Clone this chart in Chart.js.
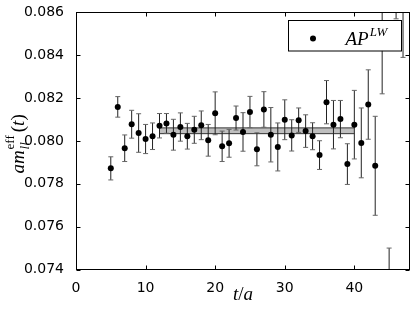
<!DOCTYPE html>
<html><head><meta charset="utf-8">
<script src="https://cdn.jsdelivr.net/npm/chart.js@4/dist/chart.umd.min.js"></script>
<style>html,body{margin:0;padding:0;background:#fff;}canvas{display:block;}</style>
</head><body>
<canvas id="c" width="415" height="311"></canvas>
<script>
// ---- data ----
const tValues = [5,6,7,8,9,10,11,12,13,14,15,16,17,18,19,20,21,22,23,24,25,26,27,28,29,30,31,32,33,34,35,36,37,38,39,40,41,42,43,44,45,46,47];
const mEff = [0.07872,0.08159,0.07966,0.08078,0.08037,0.08009,0.08022,0.08071,0.08082,0.08029,0.08065,0.08022,0.08052,0.08073,0.08003,0.08129,0.07975,0.07989,0.08107,0.08042,0.08135,0.07961,0.08147,0.08029,0.07972,0.08099,0.08026,0.08097,0.08046,0.08022,0.07934,0.08181,0.08076,0.08102,0.07892,0.08076,0.07991,0.08170,0.07884,0.0875,0.0725,0.0885,0.0890];
const mErr = [0.00054,0.00048,0.00062,0.00065,0.00090,0.00068,0.00062,0.00057,0.00046,0.00072,0.00066,0.00060,0.00063,0.00067,0.00074,0.00100,0.00071,0.00065,0.00056,0.00090,0.00073,0.00077,0.00083,0.00127,0.00112,0.00093,0.00073,0.00057,0.00076,0.00063,0.00067,0.00101,0.00113,0.00087,0.00095,0.00160,0.00163,0.00162,0.00231,0.0053,0.0025,0.0028,0.0051];
const fitRange = [12, 40];
const fitUpper = 0.08061;
const fitLower = 0.08034;
const xTicks = [0,10,20,30,40];
const yTicks = [0.074,0.076,0.078,0.080,0.082,0.084,0.086];
const xRange = [0, 48];
const yRange = [0.074, 0.086];
const legendMain = 'AP';
const legendSup = 'LW';

const SERIF = '"Liberation Serif", "DejaVu Serif", serif';

const errPlugin = {
  id: 'errbars',
  beforeDatasetDraw(chart, args) {
    if (args.index !== 0) return;
    const {ctx, chartArea: ca, scales: {x, y}} = chart;
    ctx.save();
    ctx.beginPath(); ctx.rect(ca.left, ca.top, ca.right - ca.left, ca.bottom - ca.top); ctx.clip();
    ctx.lineWidth = 1;
    tValues.forEach((t, i) => {
      const px = x.getPixelForValue(t);
      const y1 = y.getPixelForValue(mEff[i] + mErr[i]);
      const y2 = y.getPixelForValue(mEff[i] - mErr[i]);
      ctx.strokeStyle = '#222';
      ctx.beginPath(); ctx.moveTo(px, y1); ctx.lineTo(px, y2); ctx.stroke();
      ctx.strokeStyle = '#666';
      ctx.beginPath();
      ctx.moveTo(px - 2.5, y1); ctx.lineTo(px + 2.5, y1);
      ctx.moveTo(px - 2.5, y2); ctx.lineTo(px + 2.5, y2);
      ctx.stroke();
    });
    ctx.restore();
  }
};

function drawPieces(ctx, pieces, x0, baseY) {
  let x = x0;
  pieces.forEach(p => {
    ctx.font = p.font;
    ctx.fillText(p.text, x, baseY + (p.dy || 0));
    x += ctx.measureText(p.text).width;
  });
}

const framePlugin = {
  id: 'frame',
  afterDraw(chart) {
    const {ctx, chartArea: ca, scales: {x, y}} = chart;
    ctx.save();
    ctx.strokeStyle = '#000';
    ctx.lineWidth = 1;
    const L = Math.round(ca.left) + 0.5, R = Math.round(ca.right) - 0.5;
    const T = Math.round(ca.top) + 0.5, B = Math.round(ca.bottom) - 0.5;
    ctx.strokeRect(L, T, R - L, B - T);
    const tl = 4;
    ctx.beginPath();
    xTicks.forEach(v => {
      const px = Math.round(x.getPixelForValue(v)) + 0.5;
      ctx.moveTo(px, B); ctx.lineTo(px, B - tl);
      ctx.moveTo(px, T); ctx.lineTo(px, T + tl);
    });
    yTicks.forEach(v => {
      const py = Math.round(y.getPixelForValue(v)) + 0.5;
      ctx.moveTo(L, py); ctx.lineTo(L + tl, py);
      ctx.moveTo(R, py); ctx.lineTo(R - tl, py);
    });
    ctx.stroke();

    // legend
    const bx = ca.right - 122.5, by = ca.top + 8;
    ctx.fillStyle = '#fff';
    ctx.fillRect(bx, by, 113, 30.5);
    ctx.strokeRect(Math.round(bx) + 0.5, Math.round(by) + 0.5, 113, 30.5);
    ctx.fillStyle = '#000';
    ctx.beginPath(); ctx.arc(bx + 25.5, by + 18, 3, 0, Math.PI * 2); ctx.fill();
    ctx.textBaseline = 'alphabetic';
    ctx.textAlign = 'left';
    ctx.font = 'italic 19px ' + SERIF;
    ctx.fillText(legendMain, bx + 58, by + 24.5);
    const wm = ctx.measureText(legendMain).width;
    ctx.font = 'italic 13px ' + SERIF;
    ctx.fillText(legendSup, bx + 58 + wm + 1, by + 16);

    // x title
    const xp = [
      {text: 't', font: 'italic 19px ' + SERIF},
      {text: '/', font: '19px ' + SERIF},
      {text: 'a', font: 'italic 19px ' + SERIF}
    ];
    let w = 0;
    xp.forEach(p => { ctx.font = p.font; w += ctx.measureText(p.text).width; });
    drawPieces(ctx, xp, (ca.left + ca.right) / 2 - w / 2, 300);

    // y title
    ctx.save();
    ctx.translate(24, (ca.top + ca.bottom) / 2 + 3);
    ctx.rotate(-Math.PI / 2);
    const bigI = 'italic 19px ' + SERIF, bigR = '19px ' + SERIF;
    const smI = 'italic 13px ' + SERIF, smR = '13px ' + SERIF;
    ctx.font = bigI; const wam = ctx.measureText('am').width;
    ctx.font = smI; const wll = ctx.measureText('ll').width;
    ctx.font = smR; const weff = ctx.measureText('eff').width;
    ctx.font = bigR; const wpar = ctx.measureText('(').width * 2;
    ctx.font = bigI; const wt = ctx.measureText('t').width;
    const total = wam + 1 + Math.max(wll, weff) + 3 + wpar + wt;
    let sx = -total / 2;
    ctx.font = bigI; ctx.fillText('am', sx, 0);
    sx += wam + 1;
    ctx.font = smI; ctx.fillText('ll', sx, 5);
    ctx.font = smR; ctx.fillText('eff', sx, -10);
    sx += Math.max(wll, weff) + 3;
    ctx.font = bigR; ctx.fillText('(', sx, 0); sx += wpar / 2;
    ctx.font = bigI; ctx.fillText('t', sx, 0); sx += wt;
    ctx.font = bigR; ctx.fillText(')', sx, 0);
    ctx.restore();
    ctx.restore();
  }
};

Chart.defaults.font.family = '"DejaVu Sans", sans-serif';
Chart.defaults.font.size = 14;
Chart.defaults.color = '#000';

new Chart(document.getElementById('c'), {
  type: 'scatter',
  data: {
    datasets: [
      {
        label: legendMain + legendSup,
        data: tValues.map((t, i) => ({x: t, y: mEff[i]})),
        backgroundColor: '#000',
        borderWidth: 0,
        pointRadius: 3,
        pointHoverRadius: 3
      },
      {
        type: 'line',
        label: 'fit upper',
        data: fitRange.map(t => ({x: t, y: fitUpper})),
        borderColor: '#333',
        borderWidth: 1,
        pointRadius: 0,
        fill: false
      },
      {
        type: 'line',
        label: 'fit lower',
        data: fitRange.map(t => ({x: t, y: fitLower})),
        borderColor: '#333',
        borderWidth: 1,
        pointRadius: 0,
        backgroundColor: '#bfbfbf',
        fill: '-1'
      }
    ]
  },
  options: {
    responsive: false,
    animation: false,
    devicePixelRatio: 1,
    layout: {padding: {top: 11, right: 5, left: 0, bottom: 0}},
    plugins: {legend: {display: false}, tooltip: {enabled: false}},
    scales: {
      x: {
        type: 'linear', min: xRange[0], max: xRange[1],
        grid: {display: false},
        border: {display: false},
        afterBuildTicks: s => { s.ticks = xTicks.map(v => ({value: v})); },
        afterFit: s => { s.height = 41.5; },
        ticks: {padding: 2, maxRotation: 0, callback: v => String(v)}
      },
      y: {
        type: 'linear', min: yRange[0], max: yRange[1],
        grid: {display: false},
        border: {display: false},
        afterBuildTicks: s => { s.ticks = yTicks.map(v => ({value: v})); },
        afterFit: s => { s.width = 76; },
        ticks: {padding: 4, callback: v => Number(v).toFixed(3)}
      }
    }
  },
  plugins: [errPlugin, framePlugin]
});
</script>
</body></html>
